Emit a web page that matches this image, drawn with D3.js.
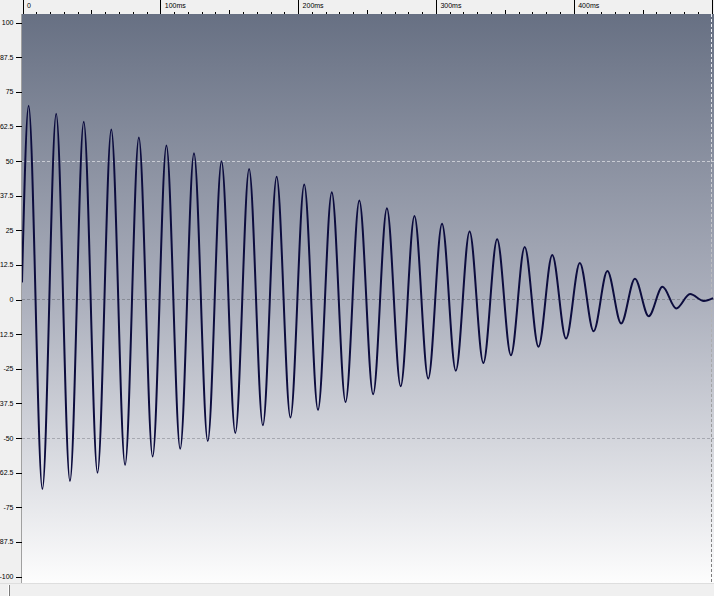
<!DOCTYPE html>
<html>
<head>
<meta charset="utf-8">
<script src="https://cdn.jsdelivr.net/npm/d3@7"></script>
<style>
  body { margin: 0; background: #f0f0f0; overflow: hidden; }
  text { font-family: "Liberation Sans", Arial, sans-serif; font-size: 7px; fill: #000; }
</style>
</head>
<body>
<svg width="714" height="596"></svg>
<script>
// extrema of the decaying wave (ms, value)
var peakTimes = [4.8, 24.8, 44.8, 64.8, 84.8, 104.8, 124.8, 144.8, 164.8, 184.8, 204.8, 224.8, 244.8,
                 264.8, 284.8, 304.8, 324.8, 344.8, 364.8, 384.8, 404.8, 424.8, 444.8, 464.8, 484.8];
var peakValues = [69.8, 66.9, 64.0, 61.2, 58.3, 55.4, 52.6, 49.7, 46.9, 44.1, 41.3, 38.5, 35.6,
                  32.8, 30.0, 27.2, 24.4, 21.6, 18.8, 15.9, 13.0, 10.1, 7.3, 4.4, 1.8];
var troughTimes = [14.8, 34.8, 54.8, 74.8, 94.8, 114.8, 134.8, 154.8, 174.8, 194.8, 214.8, 234.8, 254.8,
                   274.8, 294.8, 314.8, 334.8, 354.8, 374.8, 394.8, 414.8, 434.8, 454.8, 474.8, 494.8];
var troughValues = [-68.6, -65.7, -62.7, -59.9, -56.9, -54.1, -51.3, -48.4, -45.6, -42.8, -40.0, -37.2, -34.4,
                    -31.5, -28.7, -25.9, -23.1, -20.3, -17.2, -14.3, -11.6, -8.8, -6.2, -3.4, -0.7];
var startPoint = [0, 6];
var endPoint = [501.5, 0.3];

var yTicks = [100, 87.5, 75, 62.5, 50, 37.5, 25, 12.5, 0, -12.5, -25, -37.5, -50, -62.5, -75, -87.5, -100];
var xMajorTicks = [0, 100, 200, 300, 400, 500];
var xLabels = ['0', '100ms', '200ms', '300ms', '400ms', '500ms'];
var gridValues = [50, 0, -50];
var gridColors = ['#c9ccd4', '#868a94', '#a6a8b0'];

var svg = d3.select('svg');
var plotTop = 14, plotBottom = 583, plotLeft = 22, plotRight = 714;

var x = d3.scaleLinear().domain([0, 500]).range([22, 711]);
var y = d3.scaleLinear().domain([-100, 100]).range([576, 22]);

var defs = svg.append('defs');
var bg = defs.append('linearGradient').attr('id', 'bg')
  .attr('gradientUnits', 'userSpaceOnUse')
  .attr('x1', 0).attr('y1', plotTop).attr('x2', 0).attr('y2', plotBottom);
bg.append('stop').attr('offset', 0).attr('stop-color', '#677083');
bg.append('stop').attr('offset', 0.5).attr('stop-color', '#abafbc');
bg.append('stop').attr('offset', 1).attr('stop-color', '#fdfdfd');

var vg = defs.append('linearGradient').attr('id', 'vgrid')
  .attr('gradientUnits', 'userSpaceOnUse')
  .attr('x1', 0).attr('y1', plotTop).attr('x2', 0).attr('y2', plotBottom);
vg.append('stop').attr('offset', 0).attr('stop-color', '#f0f2f6');
vg.append('stop').attr('offset', 1).attr('stop-color', '#7c7c7c');

// plot background
svg.append('rect').attr('x', plotLeft).attr('y', plotTop)
  .attr('width', plotRight - plotLeft).attr('height', plotBottom - plotTop)
  .attr('fill', 'url(#bg)');

// dashed grid
svg.selectAll('.hgrid').data(gridValues).join('line')
  .attr('class', 'hgrid')
  .attr('x1', plotLeft).attr('x2', plotRight)
  .attr('y1', function(d) { return Math.round(y(d)) + 0.5; })
  .attr('y2', function(d) { return Math.round(y(d)) + 0.5; })
  .attr('stroke', function(d, i) { return gridColors[i]; })
  .attr('stroke-dasharray', '3,2')
  .attr('shape-rendering', 'crispEdges');

svg.append('line')
  .attr('x1', x(500) + 0.5).attr('x2', x(500) + 0.5)
  .attr('y1', plotTop).attr('y2', plotBottom)
  .attr('stroke', 'url(#vgrid)')
  .attr('stroke-dasharray', '3,2')
  .attr('shape-rendering', 'crispEdges');

// wave
var points = [startPoint];
peakTimes.forEach(function(t, i) { points.push([t, peakValues[i]]); });
troughTimes.forEach(function(t, i) { points.push([t, troughValues[i]]); });
points.push(endPoint);
points.sort(function(a, b) { return a[0] - b[0]; });

var line = d3.line()
  .x(function(d) { return x(d[0]); })
  .y(function(d) { return y(d[1]); })
  .curve(d3.curveMonotoneX);

svg.append('path')
  .datum(points)
  .attr('d', line)
  .attr('fill', 'none')
  .attr('stroke', '#0c0c3e')
  .attr('stroke-width', 2);

// header and left panel
svg.append('rect').attr('x', 0).attr('y', 0).attr('width', plotRight).attr('height', plotTop).attr('fill', '#f0f0f0');
svg.append('rect').attr('x', 0).attr('y', 0).attr('width', plotLeft).attr('height', plotBottom).attr('fill', '#f0f0f0');
svg.append('line').attr('x1', plotLeft - 0.5).attr('x2', plotLeft - 0.5).attr('y1', plotTop).attr('y2', plotBottom)
  .attr('stroke', '#a0a0a0');

// top time axis
var xMinor = d3.range(0, 501, 10).filter(function(d) { return d % 50 !== 0; });
var xMid = [50, 150, 250, 350, 450];

var gx = svg.append('g').attr('transform', 'translate(0.5,' + plotTop + ')');
gx.call(d3.axisTop(x).tickValues(xMinor).tickSize(2).tickFormat(''));
gx.append('g').call(d3.axisTop(x).tickValues(xMid).tickSize(4).tickFormat(''));
gx.append('g').call(d3.axisTop(x).tickValues(xMajorTicks).tickSize(14)
  .tickFormat(function(d, i) { return xLabels[i]; }));
gx.selectAll('.domain').remove();
gx.selectAll('.tick line').attr('stroke', '#000').attr('shape-rendering', 'crispEdges');
gx.selectAll('.tick text')
  .attr('text-anchor', 'start')
  .attr('x', 4).attr('y', -6.5).attr('dy', 0)
  .attr('fill', '#000');

// left value axis
var gy = svg.append('g').attr('transform', 'translate(' + (plotLeft - 0.5) + ',0.5)');
gy.call(d3.axisLeft(y).tickValues(yTicks).tickSize(6).tickPadding(2)
  .tickFormat(function(d) { return String(d); }));
gy.select('.domain').remove();
gy.selectAll('.tick line').attr('stroke', '#000').attr('shape-rendering', 'crispEdges');
gy.selectAll('.tick text').attr('fill', '#000').attr('dy', '0.3em');

// status bar
svg.append('rect').attr('x', 0).attr('y', plotBottom).attr('width', plotRight).attr('height', 596 - plotBottom).attr('fill', '#f0f0f0');
svg.append('line').attr('x1', 0).attr('x2', plotRight).attr('y1', plotBottom + 0.5).attr('y2', plotBottom + 0.5).attr('stroke', '#dedede');
svg.append('line').attr('x1', 8.5).attr('x2', 8.5).attr('y1', plotBottom + 2).attr('y2', 596).attr('stroke', '#ffffff');
svg.append('line').attr('x1', 9.5).attr('x2', 9.5).attr('y1', plotBottom + 2).attr('y2', 596).attr('stroke', '#7a7a7a');
</script>
</body>
</html>
